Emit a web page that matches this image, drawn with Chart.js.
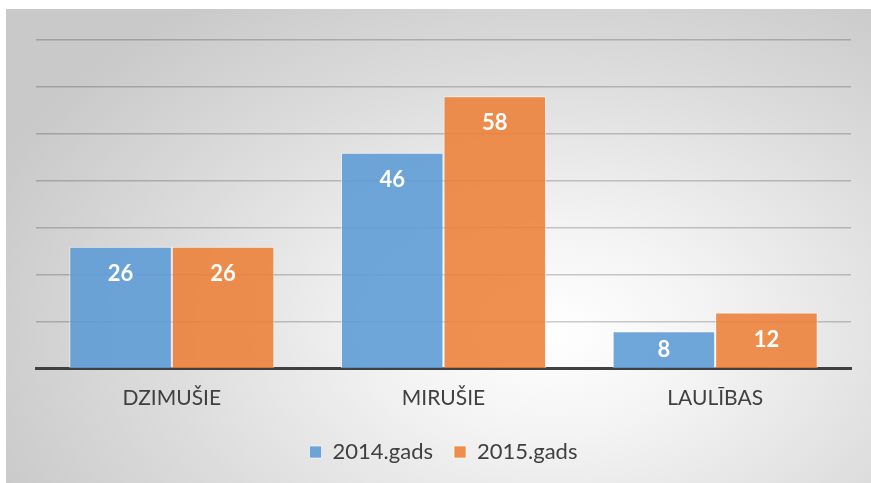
<!DOCTYPE html>
<html>
<head>
<meta charset="utf-8">
<script src="https://cdn.jsdelivr.net/npm/chart.js@4"></script>
<style>
  html, body { margin: 0; padding: 0; background: #fff; }
  #wrap {
    position: absolute; left: 6px; top: 9px; width: 865px; height: 474px;
    background: radial-gradient(ellipse 70% 85% at 63% 68%, #ffffff 0%, #f4f4f4 25%, #dcdcdc 65%, #c9c9c9 100%);
  }
  #wrap canvas { display: block; }
</style>
</head>
<body>
<div id="wrap"><canvas id="chart" width="865" height="474"></canvas></div>
<script>
"use strict";
// categories and series
const categories = ['DZIMUŠIE', 'MIRUŠIE', 'LAULĪBAS'];
const seriesNames = ['2014.gads', '2015.gads'];
const values2014 = [26, 46, 8];
const values2015 = [26, 58, 12];

const fontName = 'Lato, "Open Sans", sans-serif';

// white value labels just inside the top of each bar
const barLabels = {
  id: 'barLabels',
  afterDatasetsDraw(chart) {
    const ctx = chart.ctx;
    ctx.save();
    ctx.fillStyle = '#ffffff';
    ctx.font = 'bold 22px ' + fontName;
    ctx.textAlign = 'center';
    ctx.textBaseline = 'middle';
    chart.data.datasets.forEach(function(ds, i) {
      chart.getDatasetMeta(i).data.forEach(function(bar, j) {
        var ty = Math.min(bar.y + 27, (bar.y + bar.base) / 2);
        ctx.fillText(ds.data[j], bar.x, ty);
      });
    });
    ctx.restore();
  }
};

var ctx = document.getElementById('chart').getContext('2d');
var myChart = new Chart(ctx, {
  type: 'bar',
  data: {
    labels: categories,
    datasets: [{
      label: seriesNames[0],
      data: values2014,
      backgroundColor: 'rgba(91, 155, 213, 0.88)',
      borderColor: 'rgba(255, 255, 255, 0.6)',
      borderWidth: 1,
      categoryPercentage: 0.755,
      barPercentage: 1,
    }, {
      label: seriesNames[1],
      data: values2015,
      backgroundColor: 'rgba(237, 125, 49, 0.85)',
      borderColor: 'rgba(255, 255, 255, 0.6)',
      borderWidth: 1,
      categoryPercentage: 0.755,
      barPercentage: 1,
    }],
  },
  options: {
    responsive: false,
    animation: false,
    layout: { padding: { left: 30, right: 20, top: 31, bottom: 10 } },
    scales: {
      x: {
        grid: { display: false },
        border: { color: '#404040', width: 3 },
        ticks: { color: '#404040', font: { family: fontName, size: 21 }, padding: 9 }
      },
      y: {
        min: 0,
        max: 70,
        ticks: { display: false, stepSize: 10 },
        border: { display: false },
        grid: { color: 'rgba(0,0,0,0.2)', lineWidth: 1.5, drawTicks: false }
      }
    },
    plugins: {
      legend: {
        position: 'bottom',
        labels: {
          color: '#404040',
          font: { family: fontName, size: 22 },
          boxWidth: 12,
          boxHeight: 12,
          padding: 21,
        }
      },
      tooltip: { enabled: false }
    },
  },
  plugins: [barLabels],
});
</script>
</body>
</html>
